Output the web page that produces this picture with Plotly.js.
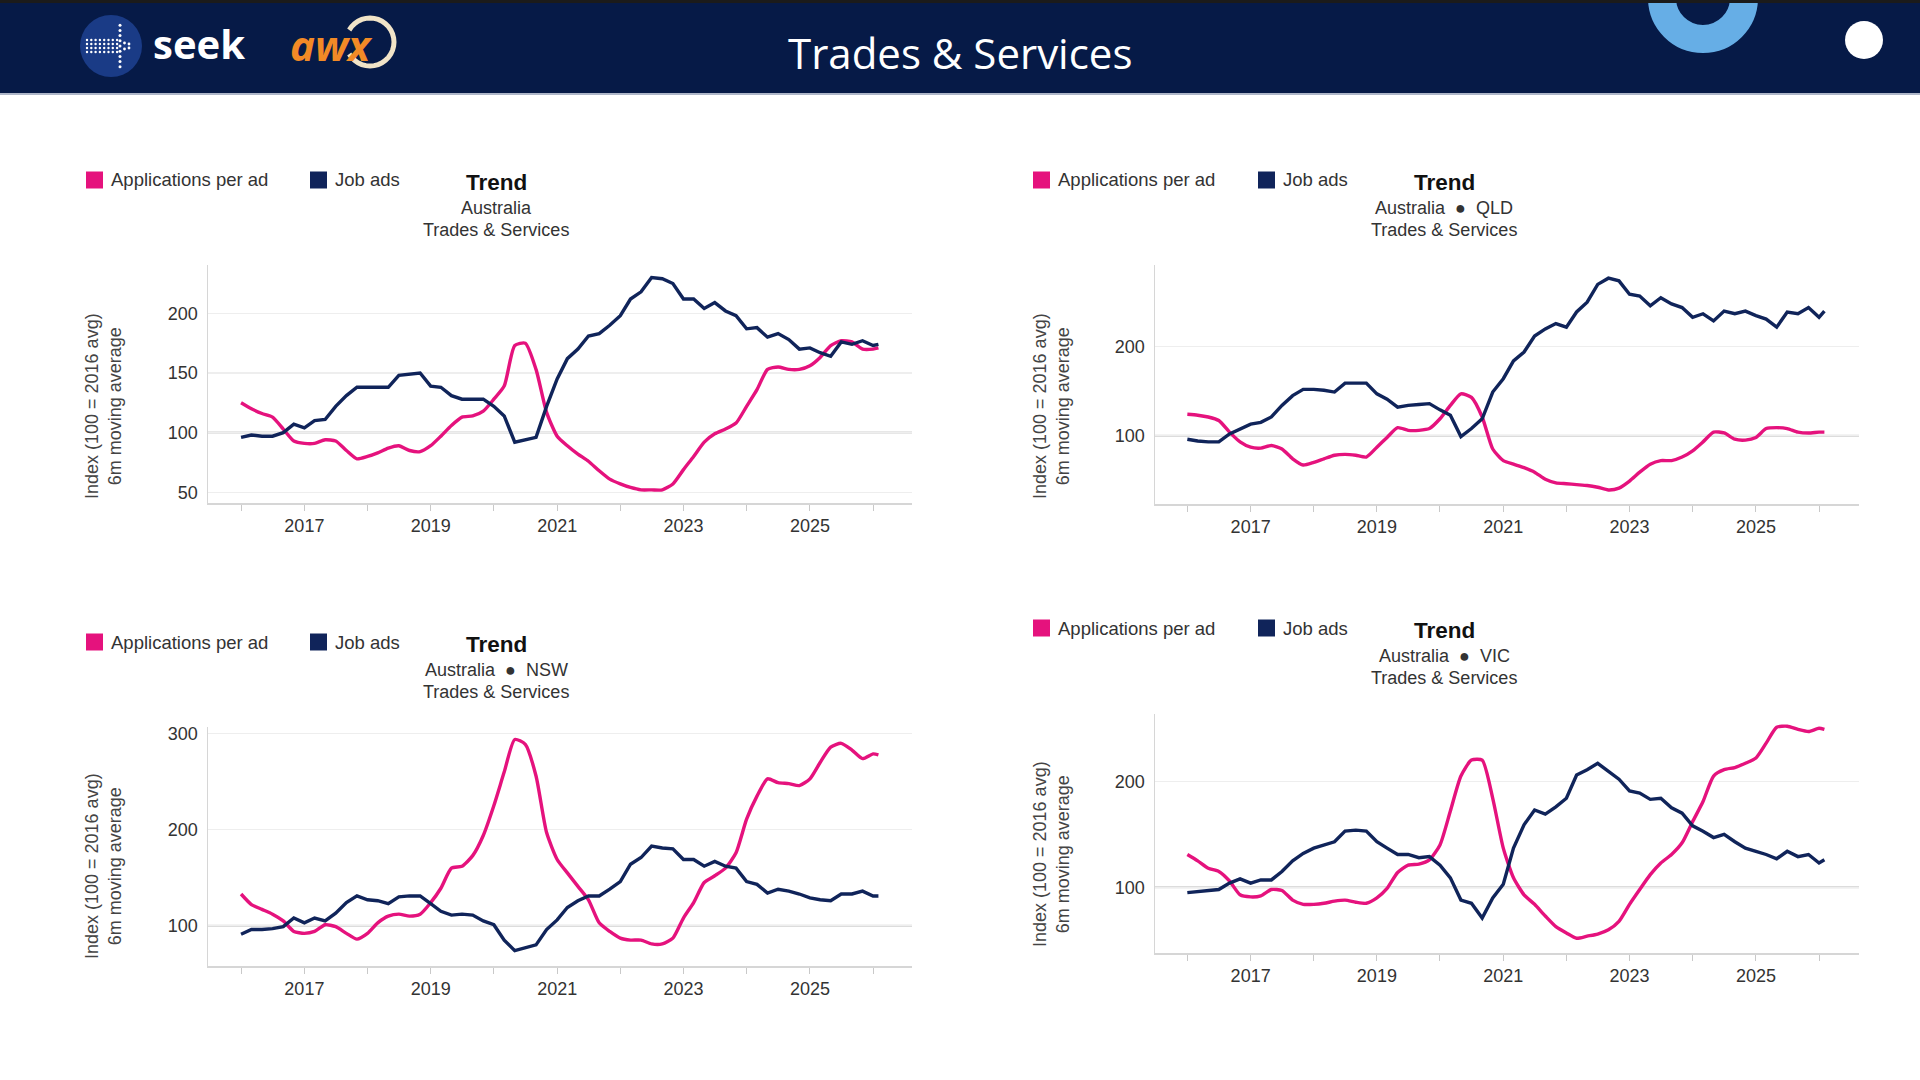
<!DOCTYPE html>
<html><head><meta charset="utf-8">
<script src="https://cdn.plot.ly/plotly-3.0.1.min.js"></script>
<style>html,body{margin:0;padding:0;background:#fff;} #chart{width:1920px;height:1080px;}</style>
</head><body><div id="chart"></div>
<script>
const dates = [
"2016-01","2016-03","2016-05","2016-07","2016-09","2016-11",
"2017-01","2017-03","2017-05","2017-07","2017-09","2017-11",
"2018-01","2018-03","2018-05","2018-07","2018-09","2018-11",
"2019-01","2019-03","2019-05","2019-07","2019-09","2019-11",
"2020-01","2020-03","2020-05","2020-07","2020-09","2020-11",
"2021-01","2021-03","2021-05","2021-07","2021-09","2021-11",
"2022-01","2022-03","2022-05","2022-07","2022-09","2022-11",
"2023-01","2023-03","2023-05","2023-07","2023-09","2023-11",
"2024-01","2024-03","2024-05","2024-07","2024-09","2024-11",
"2025-01","2025-03","2025-05","2025-07","2025-09","2025-11",
"2026-01","2026-02"];

const seriesNames = ["Applications per ad","Job ads"];

// Australia
const ausApps = [125,120,116,113,103,93, 91,91,94,93,85,78, 80,83,87,89,85,84, 89,97,106,113,114,118,
  128,139,173,175,153,117, 97,89,82,76,68,61, 57,54,52,52,52,57, 69,80,92,99,103,108,
  122,136,153,155,153,153, 156,163,173,177,176,170, 170,171];
const ausJobs = [96,98,97,97,100,107, 104,110,111,122,131,138, 138,138,138,148,149,150, 139,138,131,128,128,128,
  122,114,92,94,96,122, 145,162,170,181,183,190, 198,212,218,230,229,225, 212,212,204,209,202,198,
  187,188,180,183,178,170, 171,167,164,176,174,177, 173,174];
// QLD
const qldApps = [124,123,121,117,104,93, 87,86,89,85,74,67, 70,74,78,79,78,76, 87,98,109,106,106,108,
  119,134,147,143,121,85, 72,68,64,59,51,47, 46,45,44,42,39,41, 49,59,68,72,72,76,
  83,93,104,103,96,95, 98,108,109,108,104,103, 104,104];
const qldJobs = [96,94,93,93,102,108, 113,115,121,134,145,152, 152,151,149,159,159,159, 147,141,132,134,135,136,
  129,123,99,108,119,149, 164,184,194,212,220,226, 222,239,250,270,277,274, 259,257,246,255,248,244,
  233,237,229,240,237,240, 235,231,222,239,237,244, 233,240];
// NSW
const nswApps = [133,122,117,112,105,94, 92,94,101,99,92,86, 92,103,110,112,110,112, 124,139,160,162,173,194,
  225,260,294,289,256,197, 169,155,141,127,103,94, 87,85,85,81,81,87, 108,124,145,152,160,176,
  211,235,253,249,248,246, 253,270,286,290,283,274, 279,278];
const nswJobs = [91,96,96,97,99,108, 103,108,105,113,124,131, 127,126,123,130,131,131, 123,115,111,112,111,105,
  101,85,74,77,80,96, 106,119,126,131,131,138, 146,164,171,183,181,180, 169,169,162,167,162,160,
  146,143,134,138,136,133, 129,127,126,133,133,136, 131,131];
// VIC
const vicApps = [131,125,118,115,106,93, 91,92,98,97,88,84, 84,85,87,88,86,85, 90,99,114,121,122,126,
  140,172,205,220,220,184, 137,109,93,84,73,63, 57,52,54,56,60,68, 84,98,112,123,131,142,
  162,181,205,211,213,217, 222,236,251,252,249,247, 250,249];
const vicJobs = [95,96,97,98,104,108, 104,107,107,115,125,132, 137,140,143,153,154,153, 143,137,131,131,128,129,
  121,109,88,85,71,90, 103,137,159,173,169,176, 184,206,211,217,209,202, 191,189,183,184,175,170,
  158,153,147,150,143,137, 134,131,127,134,129,131, 123,126];

const regionLabels = ["Australia","Australia  \u25CF  QLD","Australia  \u25CF  NSW","Australia  \u25CF  VIC"];
const headerTitle = "Trades & Services";
const subTitle = "Trades & Services";
const yAxisTitle = "Index (100 = 2016 avg)<br>6m moving average";

const PINK = "#e5127d", NAVY = "#10245a";
const W = 1920, H = 1080;
const px = x => x / W, py = y => 1 - y / H;

const panels = [
  {apps:ausApps, jobs:ausJobs, x0:208, x1:912, yt:265, yb:503, yr:[41,240.5], step:50,
   xr:['2015-06-24','2026-08-14'], leg:180, l1:208, l2:230, sqX:86, jobX:310, midX:496, atX:103, atY:406},
  {apps:qldApps, jobs:qldJobs, x0:1155, x1:1859, yt:265, yb:504, yr:[23.2,291.8], step:100,
   xr:['2015-06-28','2026-08-20'], leg:180, l1:208, l2:230, sqX:1033, jobX:1258, midX:1444, atX:1051, atY:406},
  {apps:nswApps, jobs:nswJobs, x0:208, x1:912, yt:727, yb:966, yr:[58,307], step:100,
   xr:['2015-06-24','2026-08-14'], leg:642, l1:670, l2:692, sqX:86, jobX:310, midX:496, atX:103, atY:866},
  {apps:vicApps, jobs:vicJobs, x0:1155, x1:1859, yt:714, yb:953, yr:[38.1,263.5], step:100,
   xr:['2015-06-28','2026-08-20'], leg:628, l1:656, l2:678, sqX:1033, jobX:1258, midX:1444, atX:1051, atY:854}
];

const FONT = '"Liberation Sans", Arial, sans-serif';
const layout = {
  width: W, height: H, margin:{l:0,r:0,t:0,b:0},
  paper_bgcolor:'#ffffff', plot_bgcolor:'rgba(0,0,0,0)',
  showlegend:false, hovermode:false,
  font:{family:FONT, size:18, color:'#333'},
  shapes:[], annotations:[]
};
const traces = [];

panels.forEach((p,i)=>{
  const n = i === 0 ? '' : String(i+1);
  layout['xaxis'+n] = {
    domain:[px(p.x0), px(p.x1)], anchor:'y'+n, type:'date', range:p.xr,
    tick0:'2017-01-01', dtick:'M24', tickformat:'%Y', ticks:'outside', ticklen:6, tickcolor:'#c9c9c9',
    showline:true, linecolor:'#d6d6d6', linewidth:1.5, showgrid:false, zeroline:false,
    tickfont:{family:FONT, size:18, color:'#333'},
    minor:{dtick:'M12', tick0:'2017-01-01', ticks:'outside', ticklen:6, tickcolor:'#c9c9c9', showgrid:false},
    fixedrange:true
  };
  layout['yaxis'+n] = {
    domain:[py(p.yb), py(p.yt)], anchor:'x'+n, range:p.yr, tick0:0, dtick:p.step,
    showline:true, linecolor:'#d6d6d6', linewidth:1.5, showgrid:true, gridcolor:'#eeeeee', gridwidth:1.5,
    zeroline:false, ticks:'', ticklabelstandoff:5, tickfont:{family:FONT, size:18, color:'#333'}, fixedrange:true
  };
  layout.shapes.push({type:'line', xref:'x'+n+' domain', yref:'y'+n, x0:0, x1:1, y0:100, y1:100,
    line:{color:'#d0d0d0', width:2}, layer:'below'});

  traces.push({x:dates, y:p.apps, xaxis:'x'+n, yaxis:'y'+n, mode:'lines', name:seriesNames[0],
    line:{color:PINK, width:3.4, shape:'spline', smoothing:0.6}});
  traces.push({x:dates, y:p.jobs, xaxis:'x'+n, yaxis:'y'+n, mode:'lines', name:seriesNames[1],
    line:{color:NAVY, width:3.4}});

  // legend squares + labels
  const s = 17;
  layout.shapes.push({type:'rect', xref:'paper', yref:'paper', x0:px(p.sqX), x1:px(p.sqX+s),
    y0:py(p.leg+s/2), y1:py(p.leg-s/2), fillcolor:PINK, line:{width:0}});
  layout.shapes.push({type:'rect', xref:'paper', yref:'paper', x0:px(p.jobX), x1:px(p.jobX+s),
    y0:py(p.leg+s/2), y1:py(p.leg-s/2), fillcolor:NAVY, line:{width:0}});
  layout.annotations.push({xref:'paper', yref:'paper', x:px(p.sqX+s+6), y:py(p.leg), xanchor:'left', yanchor:'middle',
    text:seriesNames[0], showarrow:false, font:{family:FONT, size:18.5, color:'#333'}});
  layout.annotations.push({xref:'paper', yref:'paper', x:px(p.jobX+s+6), y:py(p.leg), xanchor:'left', yanchor:'middle',
    text:seriesNames[1], showarrow:false, font:{family:FONT, size:18.5, color:'#333'}});
  // titles
  layout.annotations.push({xref:'paper', yref:'paper', x:px(p.midX), y:py(p.leg+2), xanchor:'center', yanchor:'middle',
    text:'<b>Trend</b>', showarrow:false, font:{family:FONT, size:22.5, color:'#111'}});
  layout.annotations.push({xref:'paper', yref:'paper', x:px(p.midX), y:py(p.l1), xanchor:'center', yanchor:'middle',
    text:regionLabels[i], showarrow:false, font:{family:FONT, size:18, color:'#333'}});
  layout.annotations.push({xref:'paper', yref:'paper', x:px(p.midX), y:py(p.l2), xanchor:'center', yanchor:'middle',
    text:subTitle, showarrow:false, font:{family:FONT, size:18, color:'#333'}});
  // y axis title
  layout.annotations.push({xref:'paper', yref:'paper', x:px(p.atX), y:py(p.atY), xanchor:'center', yanchor:'middle',
    text:yAxisTitle, textangle:-90, showarrow:false, font:{family:FONT, size:18, color:'#444'}});
});

// ---------- header decoration ----------
const hdr = [];
hdr.push({type:'rect', xref:'paper', yref:'paper', x0:0, x1:1, y0:py(93), y1:1, fillcolor:'#061a47', line:{width:0}, layer:'above'});
hdr.push({type:'rect', xref:'paper', yref:'paper', x0:0, x1:1, y0:py(95), y1:py(93), fillcolor:'#aeb6c8', line:{width:0}, layer:'above'});
// light blue ring
const rc = {x:1703, y:-2, r:41};
hdr.push({type:'circle', xref:'paper', yref:'paper', x0:px(rc.x-rc.r), x1:px(rc.x+rc.r), y0:py(rc.y+rc.r), y1:py(rc.y-rc.r),
  line:{color:'#66aee6', width:28}, fillcolor:'rgba(0,0,0,0)', layer:'above'});
hdr.push({type:'rect', xref:'paper', yref:'paper', x0:0, x1:1, y0:py(3), y1:1, fillcolor:'#1b1b1b', line:{width:0}, layer:'above'});
// white dot
hdr.push({type:'circle', xref:'paper', yref:'paper', x0:px(1845), x1:px(1883), y0:py(59), y1:py(21), fillcolor:'#ffffff', line:{width:0}, layer:'above'});
// seek circle
hdr.push({type:'circle', xref:'paper', yref:'paper', x0:px(80), x1:px(142), y0:py(77), y1:py(15), fillcolor:'#1a3b86', line:{width:0}, layer:'above'});
const dot = (cx,cy,r)=>({type:'circle', xref:'paper', yref:'paper', x0:px(cx-r), x1:px(cx+r), y0:py(cy+r), y1:py(cy-r), fillcolor:'#ffffff', line:{width:0}, layer:'above'});
for (let k=-4;k<=4;k++) hdr.push(dot(120, 46+k*5.2, 1.5));
for (let row of [-6,-2,2,6]) for (let c=0;c<8;c++) hdr.push(dot(87+c*4.3, 46+row, 1.2));
for (let k=1;k<=2;k++){ hdr.push(dot(120+k*4.5, 46-3+ (k===2?1:0), 1.4)); hdr.push(dot(120+k*4.5, 46+3-(k===2?1:0), 1.4)); }
// awx swoosh arc
const arcC = {x:370, y:42, r:24};
let path = '';
for (let a=-150; a<=150; a+=10){
  const t = a*Math.PI/180;
  const X = px(arcC.x + arcC.r*Math.cos(t)), Y = py(arcC.y + arcC.r*Math.sin(t));
  path += (path ? ' L ' : 'M ') + X + ',' + Y;
}
hdr.push({type:'path', xref:'paper', yref:'paper', path:path, line:{color:'#f1e4c8', width:5}, layer:'above'});
layout.shapes = layout.shapes.concat(hdr);

layout.annotations.push({xref:'paper', yref:'paper', x:0.5, y:py(52), xanchor:'center', yanchor:'middle',
  text:headerTitle, showarrow:false, font:{family:'"Open Sans", sans-serif', size:42, color:'#ffffff'}});
layout.annotations.push({xref:'paper', yref:'paper', x:px(151), y:py(43), xanchor:'left', yanchor:'middle',
  text:'<b>seek</b>', showarrow:false, font:{family:'"Open Sans", sans-serif', size:40, color:'#ffffff'}});
layout.annotations.push({xref:'paper', yref:'paper', x:px(288), y:py(44), xanchor:'left', yanchor:'middle',
  text:'<b><i>awx</i></b>', showarrow:false, font:{family:'"Open Sans", sans-serif', size:42, color:'#f28a26'}});

Plotly.newPlot('chart', traces, layout, {staticPlot:true, displayModeBar:false});
</script>
</body></html>
